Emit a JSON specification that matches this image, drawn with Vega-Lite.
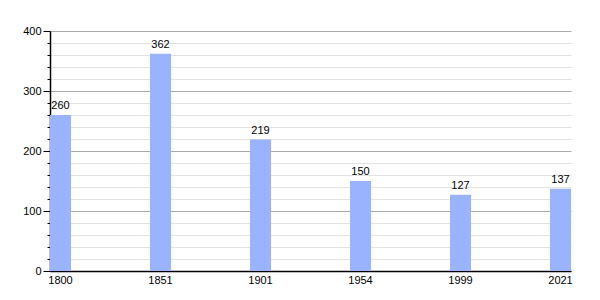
{
  "$schema": "https://vega.github.io/schema/vega-lite/v6.json",
  "autosize": "none",
  "width": 521,
  "height": 240,
  "padding": {"left": 50, "top": 31, "right": 29, "bottom": 29},
  "background": "white",
  "config": {"view": {"stroke": null}, "font": "Liberation Sans"},
  "data": {"values": [
    {"year": "1800", "pop": 260},
    {"year": "1851", "pop": 362},
    {"year": "1901", "pop": 219},
    {"year": "1954", "pop": 150},
    {"year": "1999", "pop": 127},
    {"year": "2021", "pop": 137}
  ]},
  "encoding": {
    "x": {"field": "year", "type": "ordinal", "sort": null,
      "scale": {"paddingInner": 0.79, "paddingOuter": 0},
      "axis": {"title": null, "labelAngle": 0, "ticks": false, "domainColor": "black", "domainWidth": 1.5, "labelColor": "black", "labelFontSize": 11, "labelPadding": 3, "grid": false}},
    "y": {"field": "pop", "type": "quantitative",
      "scale": {"domain": [0, 400], "nice": false},
      "axis": {"title": null, "values": [0,20,40,60,80,100,120,140,160,180,200,220,240,260,280,300,320,340,360,380,400],
        "labelExpr": "datum.value % 100 === 0 ? datum.label : ''",
        "grid": true,
        "gridColor": {"condition": {"test": "datum.value % 100 === 0", "value": "#aaaaaa"}, "value": "#e2e2e2"},
        "tickSize": {"condition": {"test": "datum.value % 100 === 0", "value": 7}, "value": 3},
        "tickColor": "black", "domainColor": "black", "domainWidth": 1.5,
        "labelColor": "black", "labelFontSize": 11, "labelPadding": 2}}
  },
  "layer": [
    {"mark": {"type": "bar", "color": "#99b3ff"}},
    {"mark": {"type": "text", "baseline": "bottom", "dy": -4, "fontSize": 11, "color": "black"},
      "encoding": {"text": {"field": "pop", "type": "quantitative"}}}
  ]
}
